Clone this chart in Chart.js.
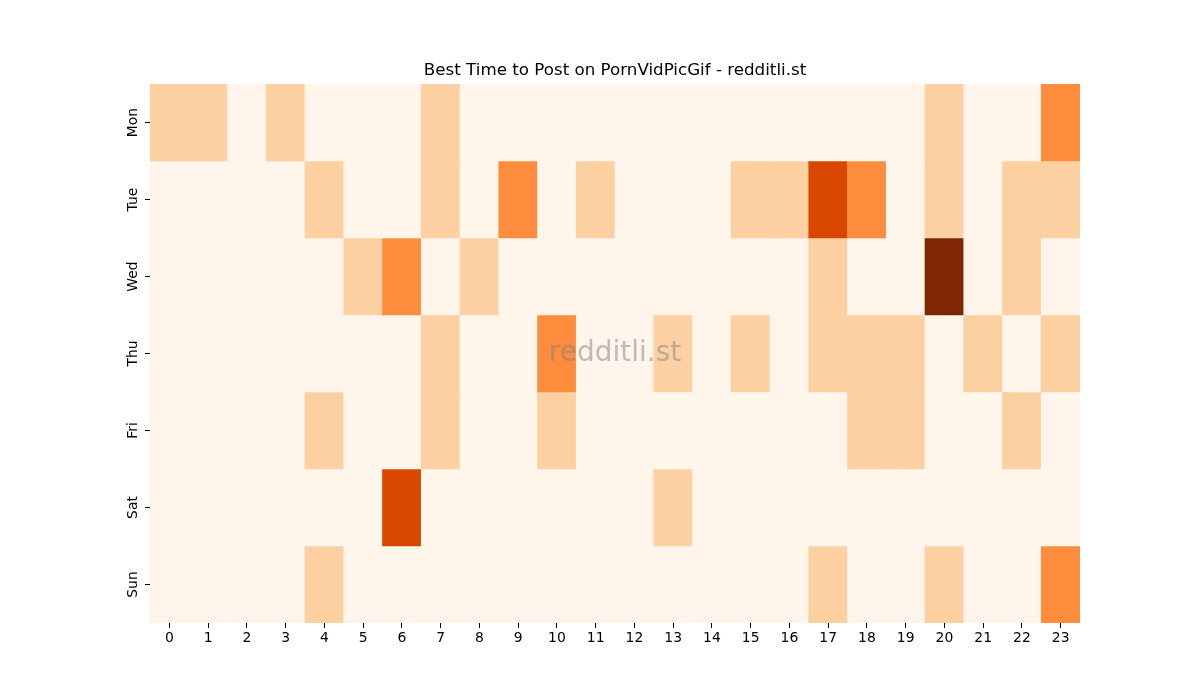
<!DOCTYPE html>
<html>
<head>
<meta charset="utf-8">
<script src="https://cdn.jsdelivr.net/npm/chart.js@4"></script>
<style>
  html, body { margin: 0; padding: 0; background: #fff; }
  #wrap { width: 1200px; height: 700px; }
</style>
</head>
<body>
<div id="wrap"><canvas id="heat"></canvas></div>
<script>
// heatmap data, one array per weekday, hours 0..23
const hours = ["0","1","2","3","4","5","6","7","8","9","10","11","12","13","14","15","16","17","18","19","20","21","22","23"];
const days = ["Mon", "Tue", "Wed", "Thu", "Fri", "Sat", "Sun"];

const mon = [1,1,0,1,0,0,0,1,0,0,0,0,0,0,0,0,0,0,0,0,1,0,0,2];
const tue = [0,0,0,0,1,0,0,1,0,2,0,1,0,0,0,1,1,3,2,0,1,0,1,1];
const wed = [0,0,0,0,0,1,2,0,1,0,0,0,0,0,0,0,0,1,0,0,4,0,1,0];
const thu = [0,0,0,0,0,0,0,1,0,0,2,0,0,1,0,1,0,1,1,1,0,1,0,1];
const fri = [0,0,0,0,1,0,0,1,0,0,1,0,0,0,0,0,0,0,1,1,0,0,1,0];
const sat = [0,0,0,0,0,0,3,0,0,0,0,0,0,1,0,0,0,0,0,0,0,0,0,0];
const sun = [0,0,0,0,1,0,0,0,0,0,0,0,0,0,0,0,0,1,0,0,1,0,0,2];

const rows = [mon, tue, wed, thu, fri, sat, sun];

// matplotlib "Oranges" sampled at 0, .25, .5, .75, 1
const palette = ["#fff5eb", "#fdd0a2", "#fd8d3c", "#d94801", "#7f2704"];

const datasets = rows.map(function (vals, r) {
    return {
        label: days[r],
        data: vals.map(() => [r, r + 1]),
        backgroundColor: vals.map(v => palette[v]),
        borderWidth: 0,
        barPercentage: 1,
        categoryPercentage: 1,
        grouped: false
    };
});

const FONT = "DejaVu Sans";

// watermark in the middle of the plot + rotated weekday labels
const extras = {
    id: "extras",
    afterDatasetsDraw(chart) {
        const a = chart.chartArea;
        const ctx = chart.ctx;
        ctx.save();
        ctx.font = "28px '" + FONT + "'";
        ctx.fillStyle = "rgba(128,128,128,0.5)";
        ctx.textAlign = "center";
        ctx.textBaseline = "middle";
        ctx.fillText("redditli.st", (a.left + a.right) / 2, (a.top + a.bottom) / 2);
        ctx.restore();
    },
    afterDraw(chart) {
        const a = chart.chartArea;
        const ys = chart.scales.y;
        const ctx = chart.ctx;
        ctx.save();
        ctx.font = "13.9px '" + FONT + "'";
        ctx.fillStyle = "#000";
        ctx.textAlign = "center";
        ctx.textBaseline = "middle";
        days.forEach(function (d, i) {
            const y = ys.getPixelForValue(i + 0.5);
            ctx.save();
            ctx.translate(a.left - 17, y);
            ctx.rotate(-Math.PI / 2);
            ctx.fillText(d, 0, 0);
            ctx.restore();
        });
        ctx.restore();
    }
};

new Chart(document.getElementById("heat"), {
    type: "bar",
    data: { labels: hours, datasets: datasets },
    plugins: [extras],
    options: {
        responsive: true,
        maintainAspectRatio: false,
        animation: false,
        layout: { padding: { left: 100, right: 120, top: 61, bottom: 37 } },
        scales: {
            x: {
                type: "category",
                grid: { drawOnChartArea: false, offset: false, tickLength: 5, color: "#000" },
                border: { display: false },
                ticks: { color: "#000", font: { family: FONT, size: 13.9 }, maxRotation: 0, autoSkip: false, padding: 2 },
                afterFit(scale) { scale.height = 40; }
            },
            y: {
                type: "linear",
                min: 0,
                max: 7,
                reverse: true,
                afterBuildTicks(scale) {
                    scale.ticks = days.map((d, i) => ({ value: i + 0.5 }));
                },
                grid: { drawOnChartArea: false, tickLength: 5, color: "#000" },
                border: { display: false },
                ticks: { display: false },
                afterFit(scale) { scale.width = 50; }
            }
        },
        plugins: {
            legend: { display: false },
            tooltip: { enabled: false },
            title: {
                display: true,
                fullSize: false,
                text: "Best Time to Post on PornVidPicGif - redditli.st",
                color: "#000",
                font: { family: FONT, size: 16.7, weight: "normal" },
                padding: { top: 0, bottom: 3 }
            }
        }
    }
});
</script>
</body>
</html>
